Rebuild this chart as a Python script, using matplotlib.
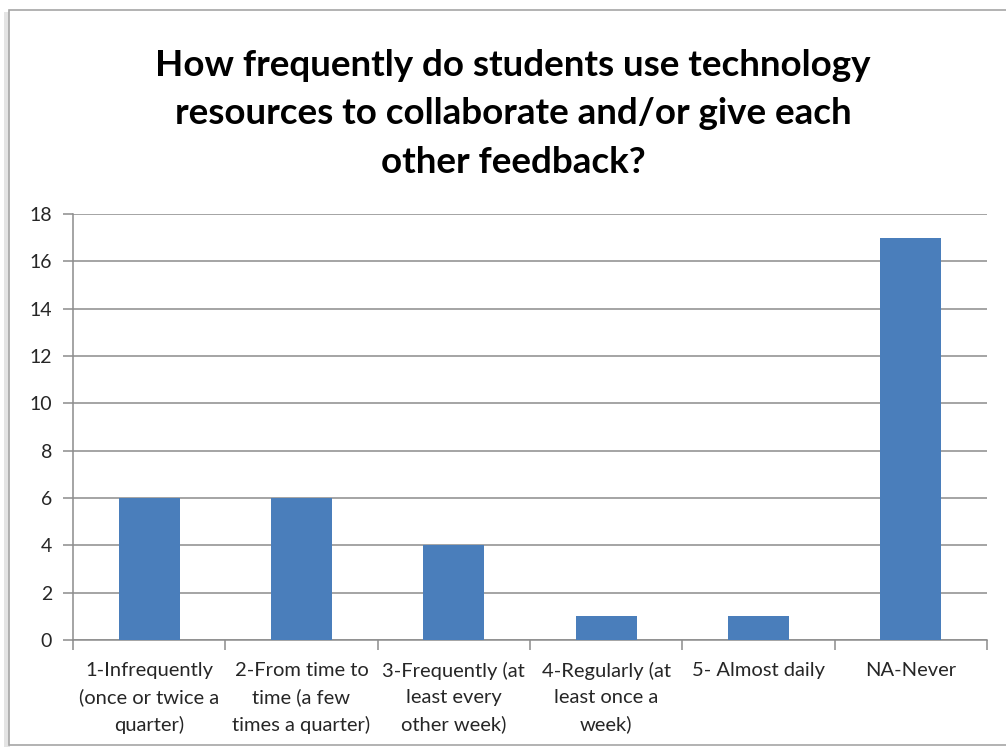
import matplotlib
matplotlib.use("Agg")
import matplotlib.pyplot as plt
from matplotlib.patches import Rectangle
import numpy as np

# Survey responses
categories = [
    "1-Infrequently\n(once or twice a\nquarter)",
    "2-From time to\ntime (a few\ntimes a quarter)",
    "3-Frequently (at\nleast every\nother week)",
    "4-Regularly (at\nleast once a\nweek)",
    "5- Almost daily",
    "NA-Never",
]
counts = [6, 6, 4, 1, 1, 17]
y_ticks = [0, 2, 4, 6, 8, 10, 12, 14, 16, 18]

title = ("How frequently do students use technology\n"
         "resources to collaborate and/or give each\n"
         "other feedback?")

plt.rcParams["font.family"] = ["Lato", "DejaVu Sans"]

fig = plt.figure(figsize=(10.06, 7.47), dpi=100)
W, H = 1006, 747

# chart frame with a soft shadow on the left
fig.patches.append(Rectangle((4 / W, 0), 6 / W, 1 - 12 / H, transform=fig.transFigure,
                             facecolor="#e4e4e4", edgecolor="none", zorder=0))
fig.patches.append(Rectangle((9 / W, 2 / H), 1.2, 1 - 12 / H, transform=fig.transFigure,
                             facecolor="white", edgecolor="#a6a6a6", linewidth=1.2, zorder=1))

ax = fig.add_axes([73 / W, 1 - 640 / H, (987 - 73) / W, (640 - 214) / H])
ax.set_zorder(2)

x = np.arange(len(categories))
ax.bar(x, counts, width=0.4, color="#4a7ebb", zorder=3)

ax.set_xlim(-0.5, len(categories) - 0.5)
ax.set_ylim(0, 18)
ax.set_yticks(y_ticks)
ax.yaxis.grid(True, color="#8c8c8c", linewidth=1.1)
ax.set_axisbelow(True)

ax.set_xticks(x)
ax.set_xticklabels(categories, fontsize=14.5, color="#262626", linespacing=1.62)
ax.set_xticks(np.arange(len(categories) + 1) - 0.5, minor=True)
ax.tick_params(axis="x", which="major", length=0, pad=16)
ax.tick_params(axis="x", which="minor", length=7, color="#8c8c8c", width=1.1, direction="out")
ax.tick_params(axis="y", length=7, color="#8c8c8c", width=1.1, labelsize=14,
               labelcolor="#262626", pad=8)

for side in ("top", "right"):
    ax.spines[side].set_visible(False)
for side in ("left", "bottom"):
    ax.spines[side].set_color("#8c8c8c")
    ax.spines[side].set_linewidth(1.1)

fig.text(513 / W, 1 - 114 / H, title, ha="center", va="center", fontsize=26.5,
         fontweight="bold", color="black", linespacing=1.57)

fig.savefig("out.png", dpi=100)
